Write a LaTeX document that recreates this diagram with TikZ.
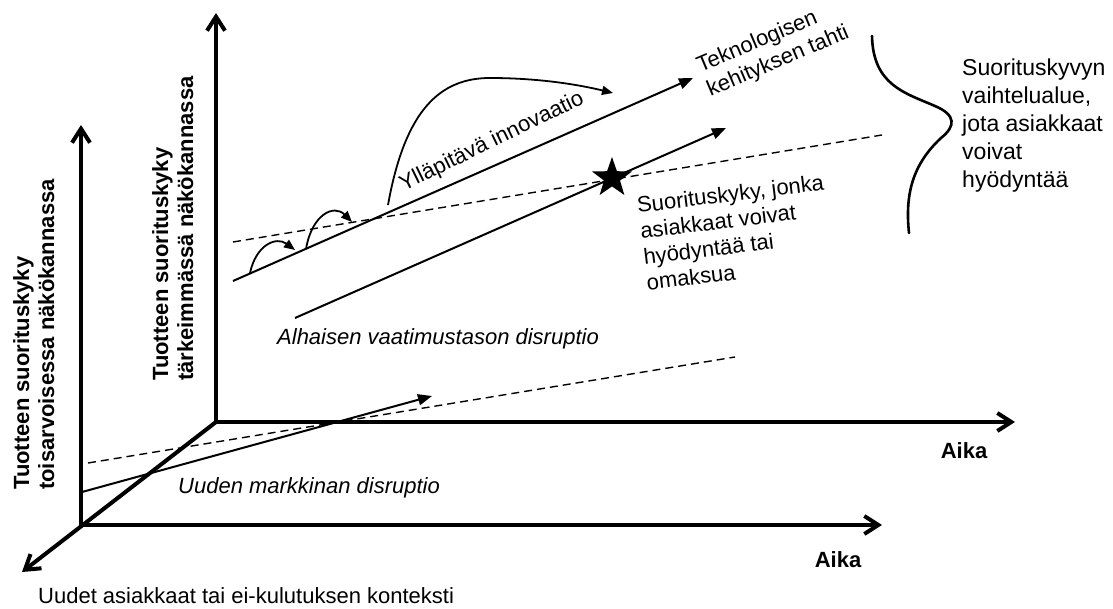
\documentclass[tikz,border=0pt]{standalone}
\usepackage{fontspec}
\setmainfont{Liberation Sans}
\usetikzlibrary{arrows.meta,shapes.geometric}
\begin{document}
\begin{tikzpicture}[x=1pt,y=-1pt,
  txt/.style={inner sep=0pt,font=\fontsize{22}{26}\selectfont},
  boldtxt/.style={inner sep=0pt,font=\fontsize{22}{25}\selectfont\bfseries},
  ittxt/.style={inner sep=0pt,font=\fontsize{22}{26}\selectfont\itshape},
  axis/.style={line width=4pt,-{Straight Barb[length=14pt,width=18pt]}},
  trend/.style={line width=2pt,-{Triangle[length=14pt,width=11pt]}},
  hop/.style={line width=1.8pt,-{Triangle[length=11pt,width=9pt]}},
  level/.style={line width=1.4pt,dash pattern=on 8pt off 5pt},
  plain/.style={line width=2pt}]

% canvas
\fill[white] (0,0) rectangle (1113,609);
\useasboundingbox (0,0) rectangle (1113,609);

% axis end points
\coordinate (bo) at (216,422);
\coordinate (bv) at (216,13);
\coordinate (bh) at (1015,422);
\coordinate (fo) at (81,525);
\coordinate (fv) at (81,125);
\coordinate (fh) at (882,525);
\coordinate (dz) at (22,572);

% trend line end points
\coordinate (t0) at (233,281);
\coordinate (t1) at (693,78);
\coordinate (c0) at (295,318);
\coordinate (c1) at (726,128);
\coordinate (u0) at (233,242);
\coordinate (u1) at (882,135);
\coordinate (l0) at (88,463);
\coordinate (l1) at (735,357);
\coordinate (n0) at (82,492);
\coordinate (n1) at (432,396);

% sustaining innovation hops
\coordinate (h0) at (250,273);
\coordinate (h1) at (295,250);
\coordinate (h2) at (306,249);
\coordinate (h3) at (352,222);
\coordinate (h4) at (388,205);
\coordinate (h5) at (490,78);
\coordinate (h6) at (613,93);

% axes
\draw[axis] (bo) -- (bv);
\draw[axis] (bo) -- (bh);
\draw[axis] (fo) -- (fv);
\draw[axis] (fo) -- (fh);
\draw[axis] (bo) -- (dz);

% dashed performance levels
\draw[level] (u0) -- (u1);
\draw[level] (l0) -- (l1);

% trajectories
\draw[trend] (t0) -- (t1);
\draw[trend] (c0) -- (c1);
\draw[trend] (n0) -- (n1);

% hops along the technology line
\draw[hop] (h0) .. controls (256,245) and (276,236) .. (h1);
\draw[hop] (h2) .. controls (312,214) and (334,204) .. (h3);
\draw[hop] (h4) .. controls (405,110) and (440,78) .. (h5)
                .. controls (540,78) and (580,85) .. (h6);

% star on the customer line
\node[star,star points=5,star point ratio=2.5,minimum size=42pt,
      fill=black,inner sep=0pt] (st) at (612,178) {};

% brace for the range
\draw[line width=2.6pt,line cap=round]
  (872,36) .. controls (873,85) and (905,93) .. (935,106)
  .. controls (956,115) and (956,126) .. (941,138)
  .. controls (912,165) and (905,195) .. (909,233);

% axis labels
\node[boldtxt,rotate=90,anchor=north west,align=left] (bl) at (152,381)
  {Tuotteen suorituskyky\\tärkeimmässä näkökannassa};
\node[boldtxt,rotate=90,anchor=north west,align=left] (fl) at (13,490)
  {Tuotteen suorituskyky\\toisarvoisessa näkökannassa};
\node[boldtxt] (ab) at (964,451) {Aika};
\node[boldtxt] (af) at (838,560) {Aika};
\node[txt,anchor=west] (nc) at (38,596) {Uudet asiakkaat tai ei-kulutuksen konteksti};

% trajectory labels
\node[ittxt,anchor=west] (low) at (277,339) {Alhaisen vaatimustason disruptio};
\node[ittxt,anchor=west] (nm) at (178,488) {Uuden markkinan disruptio};
\node[txt,rotate=26] (yi) at (492,142) {Ylläpitävä innovaatio};
\node[txt,rotate=23,anchor=north west,align=left] (tk) at (694,58)
  {Teknologisen\\kehityksen tahti};
\node[txt,rotate=7,anchor=north west,align=left] (sk) at (636,197)
  {Suorituskyky, jonka\\asiakkaat voivat\\hyödyntää tai\\omaksua};
\node[inner sep=0pt,font=\fontsize{23}{28}\selectfont,anchor=north west,align=left] (rg) at (962,59)
  {Suorituskyvyn\\vaihtelualue,\\jota asiakkaat\\voivat\\hyödyntää};
\end{tikzpicture}
\end{document}
